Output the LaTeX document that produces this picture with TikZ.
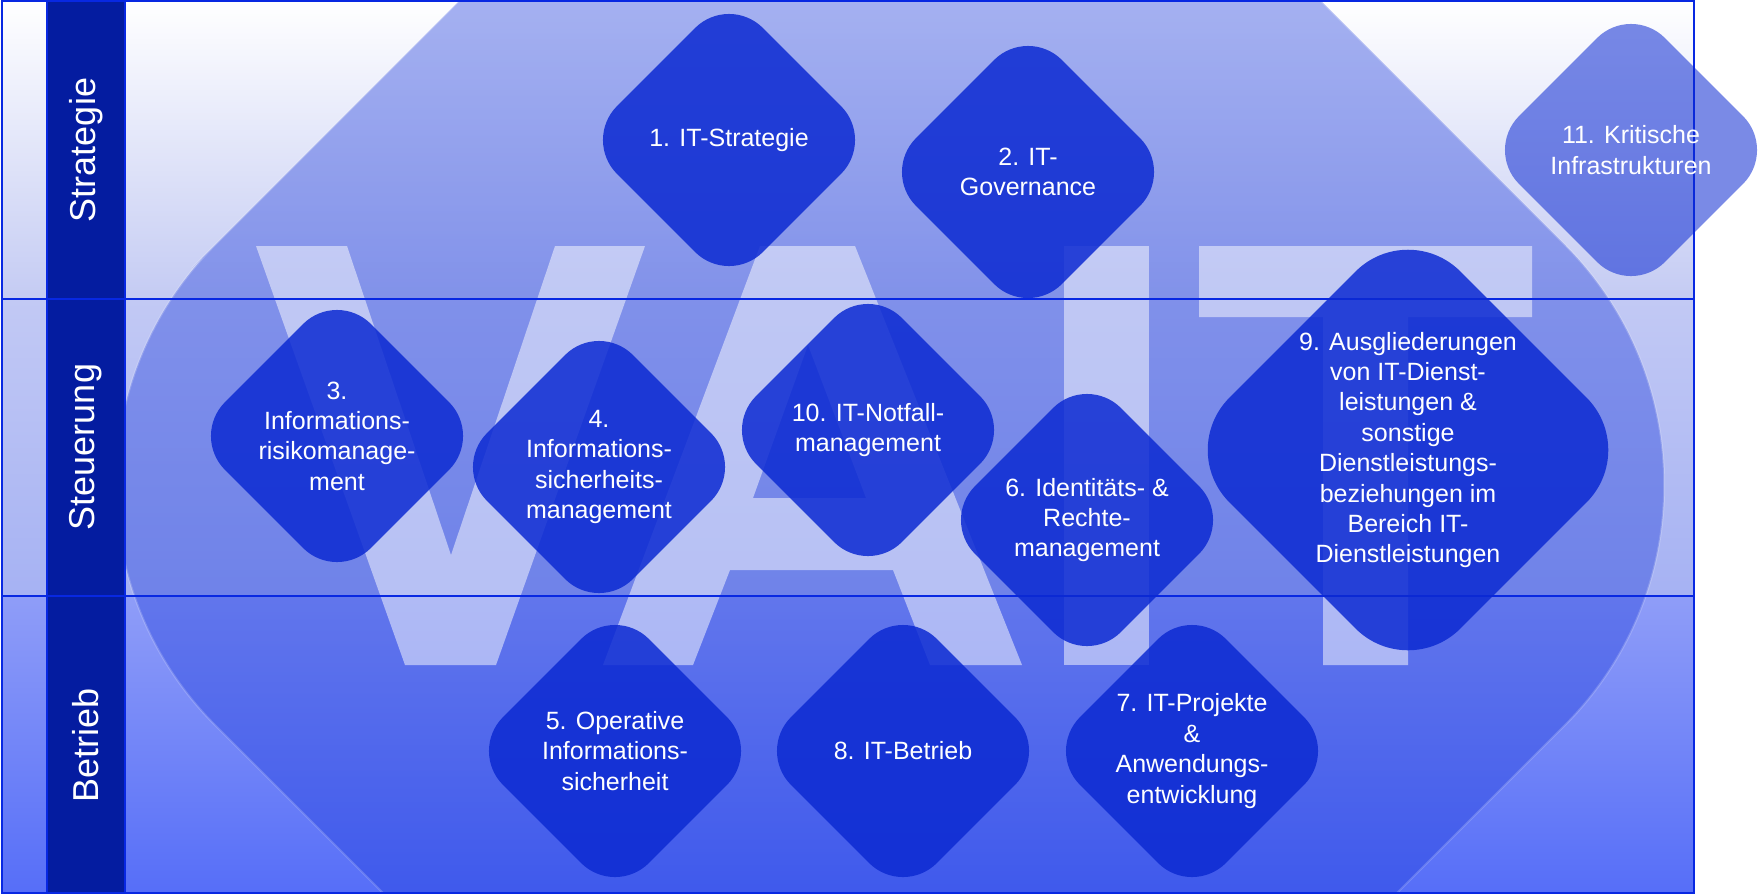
\documentclass[tikz,border=0pt]{standalone}
\usepackage{fontspec}
\setmainfont{Liberation Sans}
\usetikzlibrary{shapes.geometric}
\definecolor{frameblue}{RGB}{8,40,226}
\definecolor{barblue}{RGB}{4,28,160}
\definecolor{shapeblue}{RGB}{30,60,220}
\definecolor{diablue}{RGB}{12,42,210}
\definecolor{bandAb}{RGB}{196,203,243}
\definecolor{bandBt}{RGB}{194,201,244}
\definecolor{bandBb}{RGB}{166,178,243}
\definecolor{bandCt}{RGB}{143,157,248}
\definecolor{bandCb}{RGB}{86,110,248}
\tikzset{
  tile/.style={diamond, aspect=1, inner sep=0pt, minimum size=292pt,
    rounded corners=48pt, fill=diablue, fill opacity=0.85, text=white,
    text opacity=1, align=center, font=\fontsize{25}{30.4}\selectfont},
  bigtile/.style={tile, minimum size=462pt, rounded corners=74pt},
  faint/.style={tile, fill opacity=0.55},
  lane/.style={text=white, rotate=90, inner sep=0pt, font=\fontsize{36}{43}\selectfont},
  rule/.style={draw=frameblue, line width=2.5pt},
  letter/.style={fill=white, fill opacity=0.5},
}
\begin{document}
\begin{tikzpicture}[x=1pt,y=-1pt]
\useasboundingbox (0,0) rectangle (1758,895);
% band backgrounds
\fill[top color=white, bottom color=bandAb] (2,1) rectangle (1694,299);
\fill[top color=bandBt, bottom color=bandBb] (2,299) rectangle (1694,596);
\fill[top color=bandCt, bottom color=bandCb] (2,596) rectangle (1694,893);
% big backdrop shape
\begin{scope}
  \clip (2,1) rectangle (1694,893);
  \fill[shapeblue, fill opacity=0.4, rounded corners=340pt]
    (432.5,27.5) -- (890,-430) -- (1805,485) -- (890,1400) -- (-25,485) -- cycle;
  \draw[white, draw opacity=0.18, line width=2pt, rounded corners=340pt]
    (432.5,27.5) -- (890,-430) -- (1805,485) -- (890,1400) -- (-25,485) -- cycle;
\end{scope}
% letters VAIT
\fill[letter] (256,246) -- (347,246) -- (451,555) -- (555,246) -- (645,246)
  -- (496,665) -- (405,665) -- cycle;
\fill[letter, even odd rule] (603,665) -- (760,246) -- (855,246) -- (1022,665)
  -- (930,665) -- (893,570) -- (730,570) -- (693,665) -- cycle
  (808,345) -- (753,498) -- (866,498) -- cycle;
\fill[letter] (1064,246) rectangle (1149,665);
\fill[letter] (1199,246) -- (1532,246) -- (1532,317) -- (1408,317) -- (1408,665)
  -- (1323,665) -- (1323,317) -- (1199,317) -- cycle;
% left bar
\fill[barblue] (47,1) rectangle (125,893);
% rules
\draw[rule] (2,1) rectangle (1694,893);
\draw[rule] (2,299) -- (1694,299);
\draw[rule] (2,596) -- (1694,596);
\draw[rule] (47,1) -- (47,893);
\draw[rule] (125,1) -- (125,893);
% lane labels
\node[lane] (lstrat) at (86,150) {Strategie};
\node[lane] (lsteu) at (86,447) {Steuerung};
\node[lane] (lbetr) at (86,745) {Betrieb};
% tiles
\node[tile] (d1) at (729,140) {1. IT-Strategie};
\node[tile] (d2) at (1028,172) {2. IT-\\Governance};
\node[faint] (d11) at (1631,150) {11. Kritische\\Infrastrukturen};
\node[tile] (d3) at (337,436) {3.\\Informations-\\risikomanage-\\ment};
\node[tile] (d4) at (599,467) {4.\\Informations-\\sicherheits-\\management};
\node[tile] (d10) at (868,430) {10. IT-Notfall-\\management};
\node[tile] (d6) at (1087,520) {6. Identitäts- \&\\Rechte-\\management};
\node[bigtile] (d9) at (1408,450) {9. Ausgliederungen\\von IT-Dienst-\\leistungen \&\\sonstige\\Dienstleistungs-\\beziehungen im\\Bereich IT-\\Dienstleistungen};
\node[tile] (d5) at (615,751) {5. Operative\\Informations-\\sicherheit};
\node[tile] (d8) at (903,751) {8. IT-Betrieb};
\node[tile] (d7) at (1192,751) {7. IT-Projekte\\\&\\Anwendungs-\\entwicklung};
\end{tikzpicture}
\end{document}
